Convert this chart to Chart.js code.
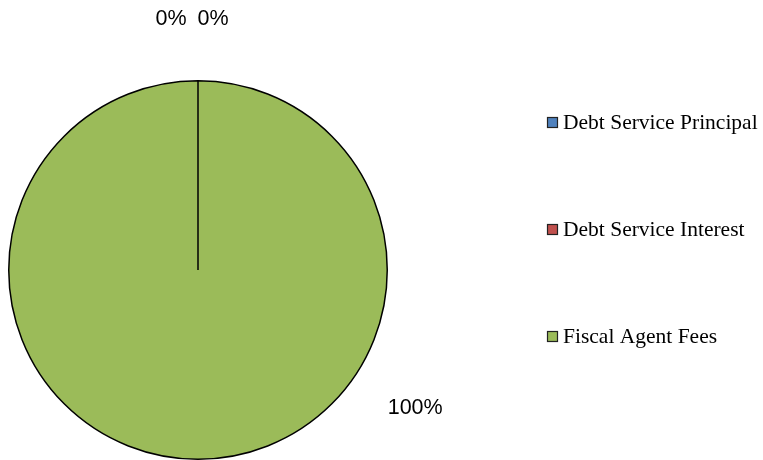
<!DOCTYPE html>
<html lang="en">
<head>
    <meta charset="UTF-8">
    <title>Fund Expenditures</title>
    <script src="https://cdn.jsdelivr.net/npm/chart.js"></script>
    <style>
        body {
          margin: 0;
          background: #fff;
        }
        .wrap {
          width: 763px;
          height: 460px;
        }
    </style>
</head>
<body>
    <div class="wrap">
        <canvas id="myChart" width="763" height="460"></canvas>
    </div>

    <script>
        // Expense categories and their amounts
        const categories = ['Debt Service Principal', 'Debt Service Interest', 'Fiscal Agent Fees'];
        const amounts = [0, 0, 100];
        const percentLabels = ['0%', '0%', '100%'];
        const sliceColors = ['#4F81BD', '#C0504D', '#9BBB59'];

        // Percent labels outside the pie, Excel style
        const pieLabels = {
            id: 'pieLabels',
            afterDatasetsDraw(chart) {
                const ctx = chart.ctx;
                const arcs = chart.getDatasetMeta(0).data;
                ctx.save();
                ctx.font = '21.5px "Liberation Sans", Arial, sans-serif';
                ctx.fillStyle = '#000';
                ctx.textAlign = 'center';
                ctx.textBaseline = 'middle';
                arcs.forEach((arc, i) => {
                    const r = arc.outerRadius;
                    let x, y;
                    if (amounts[i] === 0) {
                        // zero slices sit at the top, spread sideways
                        const a = arc.startAngle;
                        x = arc.x + Math.cos(a) * (r + 62) + (i === 0 ? -27 : 15);
                        y = arc.y + Math.sin(a) * (r + 62);
                    } else {
                        const a = Math.PI * 0.18;
                        x = arc.x + Math.cos(a) * (r + 68);
                        y = arc.y + Math.sin(a) * (r + 68);
                    }
                    ctx.fillText(percentLabels[i], x, y);
                });
                ctx.restore();
            }
        };

        // Legend on the right with wide spacing
        const sideLegend = {
            id: 'sideLegend',
            afterDraw(chart) {
                const ctx = chart.ctx;
                ctx.save();
                ctx.font = '21.5px "Liberation Serif", "Times New Roman", serif';
                ctx.textBaseline = 'middle';
                categories.forEach((name, i) => {
                    const y = 122.5 + i * 107;
                    ctx.fillStyle = sliceColors[i];
                    ctx.fillRect(547, y - 5.5, 11, 11);
                    ctx.strokeStyle = '#222';
                    ctx.lineWidth = 1.2;
                    ctx.strokeRect(547.5, y - 5, 10, 10);
                    ctx.fillStyle = '#000';
                    ctx.fillText(name, 563, y + 1);
                });
                ctx.restore();
            }
        };

        const ctx = document.getElementById('myChart').getContext('2d');
        const myChart = new Chart(ctx, {
            type: 'pie',
            data: {
                labels: categories,
                datasets: [{
                    data: amounts,
                    backgroundColor: sliceColors,
                    borderColor: '#000',
                    borderWidth: 1.5
                }]
            },
            options: {
                responsive: false,
                animation: false,
                layout: {
                    padding: { left: 8, right: 375, top: 80, bottom: 0 }
                },
                plugins: {
                    legend: { display: false },
                    tooltip: { enabled: false }
                }
            },
            plugins: [pieLabels, sideLegend]
        });
    </script>
</body>
</html>
